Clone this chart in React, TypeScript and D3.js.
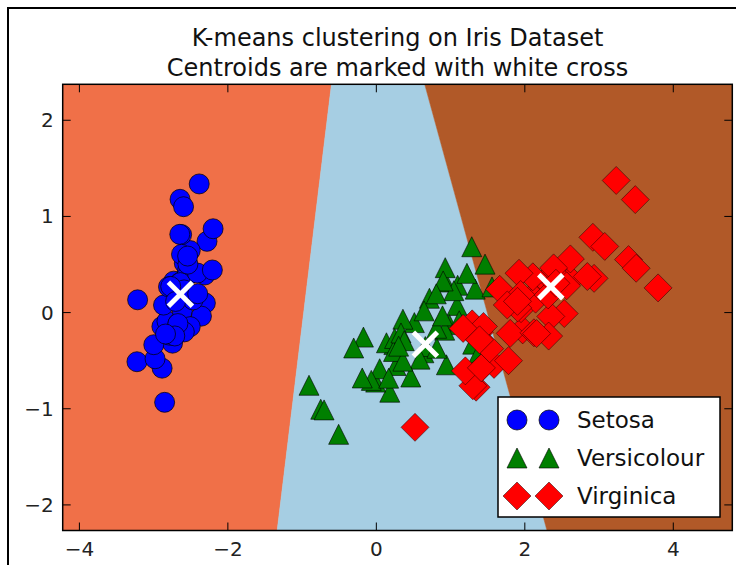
import React from 'react';
import * as d3 from 'd3';

// title lines
const titleLines = ['K-means clustering on Iris Dataset', 'Centroids are marked with white cross'];

// PCA-reduced iris points
const setosa: [number, number][] = [
  [-2.684, 0.319], [-2.714, -0.177], [-2.889, -0.145], [-2.745, -0.318], [-2.729, 0.327],
  [-2.281, 0.741], [-2.821, -0.089], [-2.626, 0.163], [-2.886, -0.578], [-2.673, -0.114],
  [-2.507, 0.645], [-2.613, 0.015], [-2.787, -0.235], [-3.225, -0.511], [-2.644, 1.178],
  [-2.386, 1.338], [-2.623, 0.811], [-2.648, 0.312], [-2.199, 0.872], [-2.587, 0.514],
  [-2.310, 0.391], [-2.544, 0.433], [-3.216, 0.133], [-2.303, 0.099], [-2.356, -0.037],
  [-2.507, -0.146], [-2.469, 0.131], [-2.562, 0.368], [-2.640, 0.312], [-2.633, -0.196],
  [-2.587, -0.201], [-2.410, 0.411], [-2.648, 0.814], [-2.597, 1.101], [-2.673, -0.114],
  [-2.867, 0.078], [-2.625, 0.606], [-2.800, 0.268], [-2.981, -0.480], [-2.590, 0.236],
  [-2.770, 0.272], [-2.852, -0.933], [-2.998, -0.334], [-2.406, 0.196], [-2.209, 0.443],
  [-2.715, -0.243], [-2.538, 0.504], [-2.840, -0.223], [-2.542, 0.588], [-2.704, 0.116],
];

const versicolour: [number, number][] = [
  [1.285, 0.685], [0.932, 0.318], [1.464, 0.504], [0.181, -0.828], [1.087, 0.075],
  [0.640, -0.418], [1.095, 0.284], [-0.749, -1.005], [1.044, 0.228], [-0.009, -0.723],
  [-0.508, -1.266], [0.512, -0.104], [0.265, -0.550], [0.984, -0.125], [-0.174, -0.255],
  [0.928, 0.467], [0.660, -0.353], [0.236, -0.333], [0.944, -0.543], [0.045, -0.584],
  [1.116, -0.085], [0.358, -0.069], [1.298, -0.328], [0.921, -0.183], [0.715, 0.149],
  [0.900, 0.329], [1.332, 0.244], [1.558, 0.267], [0.813, -0.163], [-0.305, -0.368],
  [-0.068, -0.705], [-0.190, -0.680], [0.136, -0.314], [1.380, -0.421], [0.588, -0.484],
  [0.807, 0.195], [1.220, 0.408], [0.815, -0.371], [0.246, -0.269], [0.166, -0.682],
  [0.464, -0.670], [0.891, -0.034], [0.231, -0.404], [-0.704, -1.012], [0.357, -0.505],
  [0.332, -0.212], [0.376, -0.292], [0.643, 0.018], [-0.907, -0.756], [0.300, -0.349],
];

const virginica: [number, number][] = [
  [2.531, -0.010], [1.415, -0.575], [2.617, 0.343], [1.971, -0.180], [2.350, -0.040],
  [3.397, 0.551], [0.521, -1.193], [2.933, 0.356], [2.321, -0.244], [2.917, 0.783],
  [1.662, 0.242], [1.803, -0.216], [2.165, 0.216], [1.344, -0.776], [1.585, -0.539],
  [1.905, 0.119], [1.949, 0.041], [3.488, 1.175], [3.795, 0.257], [1.300, -0.761],
  [2.428, 0.378], [1.199, -0.606], [3.500, 0.461], [1.388, -0.204], [2.276, 0.333],
  [2.614, 0.558], [1.258, -0.180], [1.291, -0.117], [2.123, -0.210], [2.388, 0.465],
  [2.842, 0.375], [3.231, 1.374], [2.159, -0.218], [1.443, -0.144], [1.780, -0.500],
  [3.077, 0.688], [2.145, 0.140], [1.905, 0.049], [1.169, -0.165], [2.108, 0.372],
  [2.314, 0.184], [1.922, 0.409], [1.415, -0.575], [2.563, 0.278], [2.419, 0.305],
  [1.944, 0.188], [1.527, -0.375], [1.764, 0.079], [1.901, 0.117], [1.390, -0.283],
];

const centroids: [number, number][] = [[-2.64, 0.19], [0.66, -0.33], [2.35, 0.27]];
const regionColors = ['#F07048', '#A6CEE3', '#B15928'];

const legendLabels = ['Setosa', 'Versicolour', 'Virginica'];
const xTicks = [-4, -2, 0, 2, 4];
const yTicks = [-2, -1, 0, 1, 2];
const xDomain: [number, number] = [-4.225, 4.795];
const yDomain: [number, number] = [-2.266, 2.374];

const W = 736, H = 565;
const left = 62.7, right = 732.3, top = 84.3, bottom = 530.5;
const font = '"DejaVu Sans", sans-serif';

const triangle = 'M0,-10L-10,10L10,10Z';
const diamond = 'M0,-14L14,0L0,14L-14,0Z';

const fmt = (v: number) => (v < 0 ? '\u2212' + Math.abs(v) : String(v));

const Marker = ({ kind, x, y }: { kind: number; x: number; y: number }) => {
  if (kind === 0)
    return <circle cx={x} cy={y} r={10} fill="#0000FF" stroke="#000" strokeOpacity={0.7} strokeWidth={1} />;
  if (kind === 1)
    return <path d={triangle} transform={`translate(${x},${y})`} fill="#007F00" stroke="#000" strokeOpacity={0.6} strokeWidth={1} />;
  return <path d={diamond} transform={`translate(${x},${y})`} fill="#FF0000" stroke="#000" strokeOpacity={0.45} strokeWidth={1} />;
};

const App = () => {
  const x = d3.scaleLinear().domain(xDomain).range([left, right]);
  const y = d3.scaleLinear().domain(yDomain).range([bottom, top]);

  // decision regions: nearest centroid, computed in data space
  const vor = d3.Delaunay.from(centroids).voronoi([xDomain[0], yDomain[0], xDomain[1], yDomain[1]]);
  const regions = centroids.map((_, i) => {
    const poly = vor.cellPolygon(i) as [number, number][];
    return d3.line()(poly.map(p => [x(p[0]), y(p[1])] as [number, number])) + 'Z';
  });

  const groups = [setosa, versicolour, virginica];
  const axesMid = (left + right) / 2;

  return (
    <svg width={W} height={H} style={{ position: 'absolute', left: 0, top: 0, background: '#fff' }} fontFamily={font}>
      <rect x={8} y={8} width={W + 20} height={H + 20} fill="#fff" stroke="#000" strokeWidth={2} />
      {titleLines.map((t, i) => (
        <text key={t} x={axesMid} y={46 + i * 30} textAnchor="middle" fontSize={24} fill="#111">{t}</text>
      ))}
      <clipPath id="axclip"><rect x={left} y={top} width={right - left} height={bottom - top} /></clipPath>
      <g clipPath="url(#axclip)">
        {regions.map((d, i) => <path key={i} d={d} fill={regionColors[i]} stroke={regionColors[i]} strokeWidth={0.5} />)}
        {groups.map((g, k) => (
          <g key={k}>{g.map((p, j) => <Marker key={j} kind={k} x={x(p[0])} y={y(p[1])} />)}</g>
        ))}
        {centroids.map((c, i) => (
          <g key={i} transform={`translate(${x(c[0])},${y(c[1])})`} stroke="#fff" strokeWidth={5}>
            <line x1={-12} y1={-12} x2={12} y2={12} />
            <line x1={-12} y1={12} x2={12} y2={-12} />
          </g>
        ))}
      </g>
      {/* ticks, inside on all four sides */}
      <g stroke="#000" strokeWidth={1}>
        {xTicks.map(t => (
          <g key={t}>
            <line x1={x(t)} x2={x(t)} y1={bottom} y2={bottom - 8} />
            <line x1={x(t)} x2={x(t)} y1={top} y2={top + 8} />
          </g>
        ))}
        {yTicks.map(t => (
          <g key={t}>
            <line x1={left} x2={left + 8} y1={y(t)} y2={y(t)} />
            <line x1={right} x2={right - 8} y1={y(t)} y2={y(t)} />
          </g>
        ))}
      </g>
      <rect x={left} y={top} width={right - left} height={bottom - top} fill="none" stroke="#000" strokeWidth={1.5} />
      {xTicks.map(t => (
        <text key={t} x={x(t)} y={bottom + 25} textAnchor="middle" fontSize={20} fill="#222">{fmt(t)}</text>
      ))}
      {yTicks.map(t => (
        <text key={t} x={left - 9} y={y(t) + 7} textAnchor="end" fontSize={20} fill="#222">{fmt(t)}</text>
      ))}
      {/* legend */}
      <g>
        <rect x={498} y={397} width={222} height={120} fill="#fff" stroke="#000" strokeWidth={1.5} />
        {legendLabels.map((l, i) => (
          <g key={l}>
            <Marker kind={i} x={517} y={420 + i * 38} />
            <Marker kind={i} x={549} y={420 + i * 38} />
            <text x={577} y={420 + i * 38 + 8} fontSize={23} fill="#111">{l}</text>
          </g>
        ))}
      </g>
    </svg>
  );
};

export default App;
